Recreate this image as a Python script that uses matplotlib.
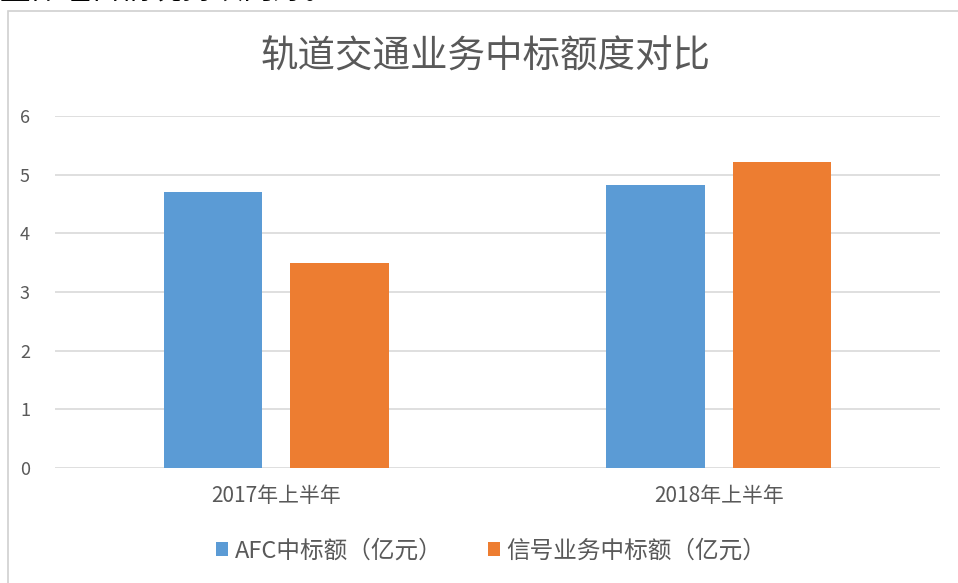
# 轨道交通业务中标额度对比 - 柱状图
import numpy as np
import matplotlib.pyplot as plt
from matplotlib.patches import Rectangle

plt.rcParams['font.family'] = ['Noto Sans CJK SC', 'DejaVu Sans']

# 数据
periods = ['2017年上半年', '2018年上半年']
afc = [4.7, 4.83]
signal = [3.5, 5.22]
series_names = ['AFC中标额（亿元）', '信号业务中标额（亿元）']
yticks = [0, 1, 2, 3, 4, 5, 6]

blue = '#5b9bd5'
orange = '#ed7d31'
grey = '#595959'

fig = plt.figure(figsize=(9.58, 5.83), dpi=100)

# 外框（截图中的图表边框）
fig.patches.append(Rectangle((8 / 958, -0.1), 1.0, 1 - 11 / 583 + 0.1,
                             transform=fig.transFigure, fill=False,
                             edgecolor='#d0d0d0', linewidth=1.2))

# 顶部被截断的正文（原图中也只露出下半部分）
fig.text(0.0, 1 - 6 / 583, '整体经营情况持续向好。', fontsize=22,
         color='black', ha='left', va='bottom')

ax = fig.add_axes([55 / 958, 1 - 468 / 583, 885 / 958, 352 / 583])

x = np.arange(len(periods))
w = 0.222
off = 0.143
ax.bar(x - off, afc, width=w, color=blue, label=series_names[0], zorder=3)
ax.bar(x + off, signal, width=w, color=orange, label=series_names[1], zorder=3)

ax.set_xlim(-0.5, 1.5)
ax.set_ylim(0, 6)
ax.set_yticks(yticks)
ax.set_xticks(x)
ax.set_xticklabels(periods, fontsize=15, color=grey)
ax.tick_params(axis='y', labelsize=13, labelcolor=grey, length=0, pad=18)
ax.tick_params(axis='x', length=0, pad=12)
ax.yaxis.grid(True, color='#d9d9d9', linewidth=1.2, zorder=0)
for s in ['top', 'right', 'left', 'bottom']:
    ax.spines[s].set_visible(False)

fig.text(0.507, 1 - 57 / 583, '轨道交通业务中标额度对比', fontsize=27,
         color=grey, ha='center', va='center')

leg = fig.legend(loc='center', bbox_to_anchor=(0.513, 1 - 551 / 583), ncol=2,
                 frameon=False, fontsize=17, handlelength=0.5, handleheight=0.5,
                 handletextpad=0.3, columnspacing=1.9)
for t in leg.get_texts():
    t.set_color(grey)

plt.savefig('out.png', dpi=100)
